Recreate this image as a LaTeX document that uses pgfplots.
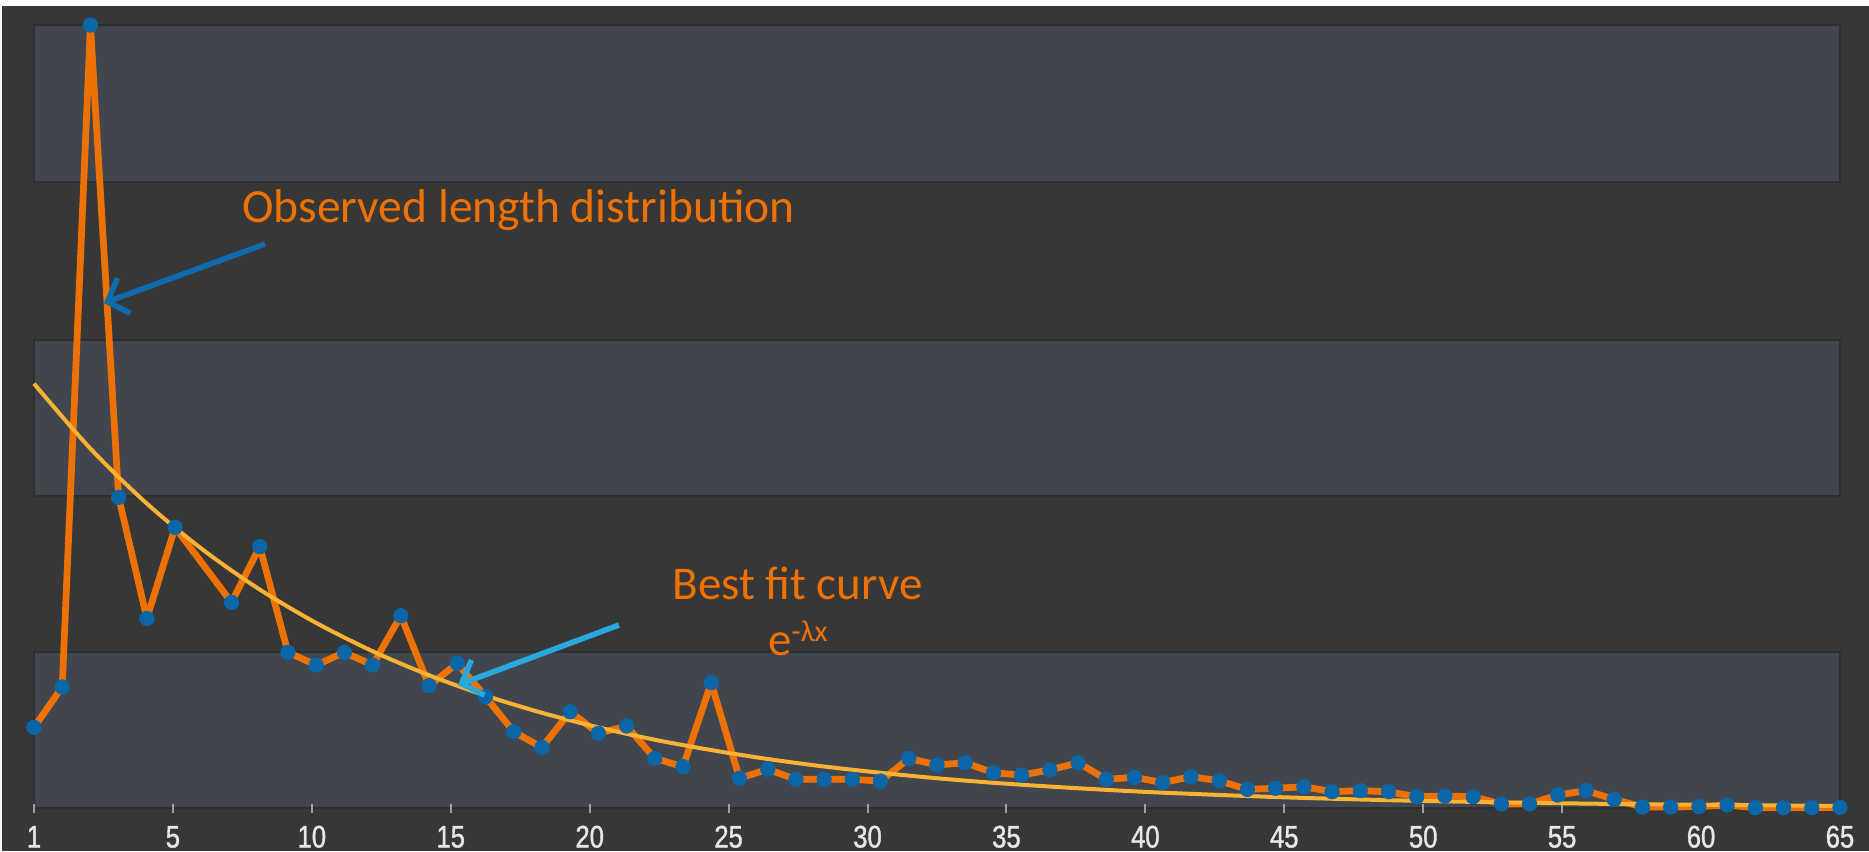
\documentclass[border=0pt]{standalone}
\usepackage{fontspec}
\setmainfont{Carlito}
\newfontfamily\tickfont[FakeStretch=0.82,FakeBold=1.2]{Liberation Sans}
\usepackage{pgfplots}
\pgfplotsset{compat=1.18}
\usetikzlibrary{arrows.meta}
\definecolor{bgdark}{HTML}{373737}
\definecolor{band}{HTML}{41454D}
\definecolor{bandedge}{HTML}{2E2F31}
\definecolor{obsorange}{HTML}{EE7203}
\definecolor{dotblue}{HTML}{0B66A8}
\definecolor{fityellow}{HTML}{F9B233}
\definecolor{arrowdark}{HTML}{0F6AAE}
\definecolor{arrowlight}{HTML}{29A8E0}
\definecolor{ticktext}{HTML}{E6E6E6}
\definecolor{tickmark}{HTML}{A0A0A0}

\pgfplotstableread{
x y
1 51.5
2 77.3
3 500
4 198.4
5 121.1
6 179.2
8 131.3
9 166.9
10 99.4
11 91.3
12 99.4
13 91.3
14 122.8
15 78.1
16 92.4
17 71.1
18 48.7
19 38.7
20 61.5
21 47.7
22 52.4
23 31.7
24 26.4
25 80.0
26 19.0
27 24.7
28 18.3
29 18.3
30 18.3
31 17.2
32 31.7
33 27.5
34 28.9
35 22.5
36 21.1
37 24.3
38 28.9
39 18.3
40 19.6
41 16.2
42 20.0
43 17.4
44 11.9
45 12.6
46 13.6
47 10.4
48 11.1
49 10.4
50 7.2
51 7.7
52 7.2
53 2.6
54 2.6
55 8.3
56 11.1
57 5.5
58 0.6
59 0.6
60 0.9
61 1.9
62 0.2
63 0.2
64 0.2
65 0.4
}\observed

\pgfplotstableread{
x y
1 271.0
3 229.5
5 194.4
7 164.7
9 139.5
11 118.2
13 100.1
15 84.8
17 71.8
19 60.8
21 51.5
23 43.6
25 37.0
27 31.3
29 26.5
31 22.5
33 19.0
35 16.1
37 13.7
39 11.6
41 9.8
45 7.0
49 5.0
53 3.6
57 2.6
61 1.9
65 1.3
}\fit

\begin{document}
\begin{tikzpicture}
\begin{scope}[x=0.4pt,y=-0.4pt]
\fill[white!96!gray] (0,0) rectangle (1869,851);
\fill[bgdark] (2,6) rectangle (1869,851);
\foreach \a/\b in {25/182,340/496,652/808}{
  \fill[band] (34,\a) rectangle (1840,\b);
  \draw[bandedge,line width=0.8pt] (34,\a) rectangle (1840,\b);
}
\end{scope}

\begin{axis}[
  at={(13.6pt,-323.2pt)}, anchor=south west,
  width=722.4pt, height=313.2pt, scale only axis,
  xmin=1, xmax=65, ymin=0, ymax=500,
  clip=false,
  axis line style={draw=none},
  ytick=\empty,
  xtick={1,5.9231,10.8462,15.7692,20.6923,25.6154,30.5385,35.4615,40.3846,45.3077,50.2308,55.1538,60.0769,65},
  xticklabels={1,5,10,15,20,25,30,35,40,45,50,55,60,65},
  xtick pos=bottom,
  tick align=center,
  major tick length=3.6pt,
  tick style={tickmark, line width=0.8pt},
  xticklabel style={font=\tickfont\fontsize{12.5}{13}\selectfont, text=ticktext, anchor=base, yshift=-14pt},
]
\addplot[obsorange, line width=2.7pt, line join=round,
  mark=*, mark size=2.9pt, mark options={solid, fill=dotblue, draw=dotblue, line width=0.3pt}]
  table[x=x,y=y] {\observed};
\addplot[fityellow, line width=1.6pt, smooth, no marks] table[x=x,y=y] {\fit};
\end{axis}

\begin{scope}[x=0.4pt,y=-0.4pt]
\node[anchor=base west, inner sep=0, text=obsorange, font=\fontsize{19}{23}\selectfont] at (242,222) {Observed length distribution};
\node[anchor=base, inner sep=0, text=obsorange, font=\fontsize{18.8}{23}\selectfont] at (797.5,599) {Best fit curve};
\node[anchor=base, inner sep=0, text=obsorange, font=\fontsize{18.8}{23}\selectfont] at (798,655) {e\raisebox{5.5pt}{\fontsize{12}{12}\selectfont -λx}};
\draw[arrowdark, line width=2.2pt, -{Straight Barb[length=7pt,width=15pt]}] (265,244) -- (104,303);
\draw[arrowlight, line width=2.2pt, -{Straight Barb[length=7pt,width=15pt]}] (619,625) -- (458,685);
\end{scope}
\pgfresetboundingbox
\path[use as bounding box] (0pt,0pt) rectangle (747.6pt,-340.4pt);
\end{tikzpicture}
\end{document}
